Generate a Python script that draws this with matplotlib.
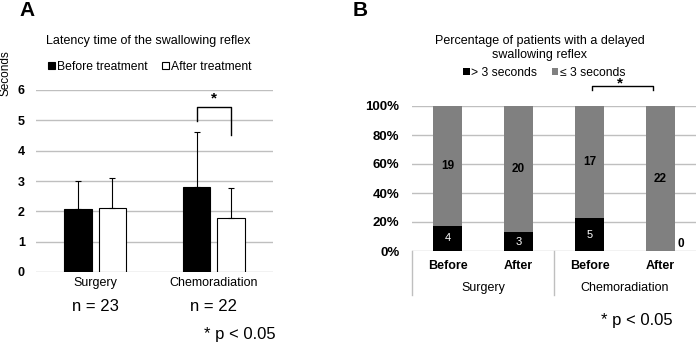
import numpy as np
import matplotlib
matplotlib.use('Agg')
from matplotlib import pyplot as plt
from matplotlib.ticker import PercentFormatter

plt.rcParams['font.family'] = ['Liberation Sans', 'DejaVu Sans']

# panel A data
groups = ['Surgery', 'Chemoradiation']
n_labels = ['n = 23', 'n = 22']
before_mean = [2.07, 2.8]
before_sd = [0.93, 1.83]
after_mean = [2.1, 1.78]
after_sd = [1.0, 0.99]

# panel B data
cat_b = ['Before', 'After', 'Before', 'After']
delayed = [4, 3, 5, 0]      # > 3 seconds
normal = [19, 20, 17, 22]   # <= 3 seconds

W, H = 696, 344
fig = plt.figure(figsize=(W / 100, H / 100), dpi=100)
GRID = '#bfbfbf'
GRAY = '#808080'

def px(x, y):
    return x / W, 1 - y / H

# ---------------- A
axA = fig.add_axes([36 / W, 1 - 272 / H, 237 / W, 182 / H])
x = np.array([0.5, 1.5])
bw = 0.23
off = 0.145
b1 = axA.bar(x - off, before_mean, bw, color='black', edgecolor='black', lw=0.8,
             label='Before treatment', zorder=3)
b2 = axA.bar(x + off, after_mean, bw, color='white', edgecolor='black', lw=0.8,
             label='After treatment', zorder=3)
axA.errorbar(x - off, before_mean, yerr=[np.zeros(2), before_sd], fmt='none',
             ecolor='black', elinewidth=0.8, capsize=2, capthick=0.8, zorder=4)
axA.errorbar(x + off, after_mean, yerr=[np.zeros(2), after_sd], fmt='none',
             ecolor='black', elinewidth=0.8, capsize=2, capthick=0.8, zorder=4)
axA.set_xlim(0, 2)
axA.set_ylim(0, 6)
axA.set_yticks(range(7))
axA.yaxis.grid(True, color=GRID, lw=1)
axA.set_axisbelow(True)
for s in axA.spines.values():
    s.set_visible(False)
axA.tick_params(length=0, labelsize=9, pad=8)
for t in axA.get_yticklabels():
    t.set_fontweight('bold')
axA.set_xticks([])
for xi, g, n in zip(x, groups, n_labels):
    axA.text(xi, -0.35, g, ha='center', va='center', fontsize=9)
    axA.text(xi, -1.15, n, ha='center', va='center', fontsize=12)
# significance bracket
axA.plot([1.5 - off, 1.5 - off, 1.5 + off, 1.5 + off], [4.98, 5.45, 5.45, 4.52],
         color='black', lw=1, zorder=5)
axA.text(1.5, 5.5, '*', ha='center', va='bottom', fontsize=11, fontweight='bold')
axA.legend(handles=[b1, b2], loc='center', bbox_to_anchor=(0.48, 1.126), ncol=2,
           frameon=False, fontsize=8.7, handlelength=0.55, handleheight=0.55,
           handletextpad=0.15, columnspacing=1.2)
fig.text(*px(148, 41), 'Latency time of the swallowing reflex', ha='center',
         va='center', fontsize=9)
fig.text(*px(6, 73), 'Seconds', rotation=90, ha='center', va='center', fontsize=8.5)
fig.text(*px(27, 11), 'A', ha='center', va='center', fontsize=15, fontweight='bold')
fig.text(*px(240, 334), '* p < 0.05', ha='center', va='center', fontsize=12)

# ---------------- B
axB = fig.add_axes([412 / W, 1 - 251 / H, 284 / W, 145 / H])
xb = np.arange(4)
tot = np.array(delayed) + np.array(normal)
p_del = np.array(delayed) / tot
p_nor = np.array(normal) / tot
bw2 = 0.41
c1 = axB.bar(xb, p_del, bw2, color='black', label='> 3 seconds', zorder=3)
c2 = axB.bar(xb, p_nor, bw2, bottom=p_del, color=GRAY, label='≤ 3 seconds', zorder=3)
for i in range(4):
    if delayed[i] > 0:
        axB.text(xb[i], p_del[i] / 2, str(delayed[i]), ha='center', va='center',
                 color='white', fontsize=8, zorder=5)
    else:
        axB.text(xb[i] + 0.28, 0.05, str(delayed[i]), ha='center', va='center',
                 color='black', fontsize=8.5, fontweight='bold', zorder=5)
    axB.text(xb[i], p_del[i] + p_nor[i] / 2, str(normal[i]), ha='center',
             va='center', color='black', fontsize=8.5, fontweight='bold', zorder=5)
axB.set_xlim(-0.5, 3.5)
axB.set_ylim(0, 1)
axB.set_yticks(np.arange(0, 1.01, 0.2))
axB.yaxis.set_major_formatter(PercentFormatter(1.0, decimals=0))
axB.yaxis.grid(True, color=GRID, lw=1)
axB.set_axisbelow(True)
for s in axB.spines.values():
    s.set_visible(False)
axB.tick_params(length=0, labelsize=9.5, pad=9)
for t in axB.get_yticklabels():
    t.set_fontweight('bold')
axB.set_xticks([])
# category table below axis
for xv in [-0.5, 1.5]:
    axB.plot([xv, xv], [0, -0.30], color=GRID, lw=1, clip_on=False)
for xi, c in zip(xb, cat_b):
    axB.text(xi, -0.105, c, ha='center', va='center', fontsize=9, fontweight='bold')
axB.text(0.5, -0.255, 'Surgery', ha='center', va='center', fontsize=9)
axB.text(2.5, -0.255, 'Chemoradiation', ha='center', va='center', fontsize=9)
# bracket
axB.plot([2.03, 2.03, 2.89, 2.89], [1.11, 1.138, 1.138, 1.11], color='black',
         lw=1, clip_on=False)
axB.text(2.43, 1.11, '*', ha='center', va='bottom', fontsize=11, fontweight='bold')
axB.legend(handles=[c1, c2], loc='center', bbox_to_anchor=(0.466, 1.228), ncol=2,
           frameon=False, fontsize=8.7, handlelength=0.55, handleheight=0.55,
           handletextpad=0.15, columnspacing=1.2)
fig.text(*px(540, 48), 'Percentage of patients with a delayed\nswallowing reflex',
         ha='center', va='center', fontsize=9, linespacing=1.25)
fig.text(*px(360, 11), 'B', ha='center', va='center', fontsize=15, fontweight='bold')
fig.text(*px(637, 321), '* p < 0.05', ha='center', va='center', fontsize=12)

fig.savefig('out.png', dpi=100)
